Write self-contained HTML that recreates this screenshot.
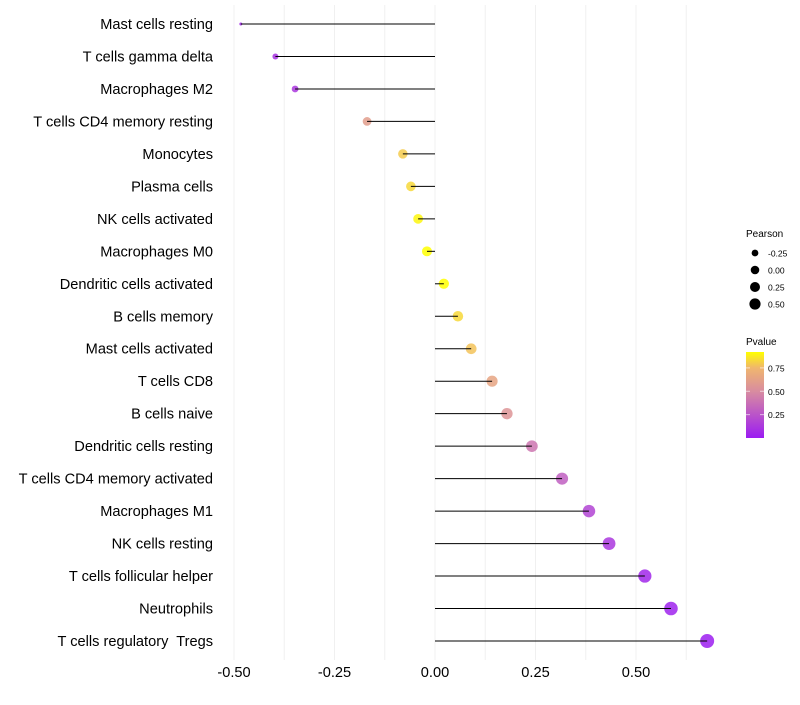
<!DOCTYPE html>
<html><head><meta charset="utf-8"><style>
body{margin:0;background:#fff;font-family:"Liberation Sans",sans-serif}
text{white-space:pre}
</style></head><body>
<svg id="chart" width="800" height="700" xmlns="http://www.w3.org/2000/svg" xml:space="preserve"></svg>
<script>
const categories=["Mast cells resting","T cells gamma delta","Macrophages M2","T cells CD4 memory resting","Monocytes","Plasma cells","NK cells activated","Macrophages M0","Dendritic cells activated","B cells memory","Mast cells activated","T cells CD8","B cells naive","Dendritic cells resting","T cells CD4 memory activated","Macrophages M1","NK cells resting","T cells follicular helper","Neutrophils","T cells regulatory  Tregs"];
const pearson=[-0.483,-0.397,-0.348,-0.169,-0.080,-0.060,-0.042,-0.020,0.022,0.057,0.090,0.142,0.179,0.241,0.316,0.383,0.433,0.522,0.587,0.677];
const pvalue=[0.05,0.1,0.12,0.6,0.8,0.83,0.9,0.92,0.92,0.83,0.78,0.65,0.55,0.4,0.3,0.18,0.12,0.05,0.03,0.01];
const xTicks=[-0.5,-0.25,0,0.25,0.5];
const xTickLabels=["-0.50","-0.25","0.00","0.25","0.50"];
const sizeLegend=[-0.25,0,0.25,0.5];
const pLegend=[0.25,0.5,0.75];

const NS="http://www.w3.org/2000/svg";
const svg=document.getElementById('chart');
function el(t,a,p){const e=document.createElementNS(NS,t);for(const k in a)e.setAttribute(k,a[k]);(p||svg).appendChild(e);return e;}
const xs=v=>435+v*402;
const ys=i=>24+i*(641-24)/19;
const rs=v=>1.5+5.5*Math.sqrt(Math.max(0,(v+0.483)/1.16));
function col(p){
  const stops=[[0,[155,28,242]],[0.5,[216,140,160]],[0.75,[240,182,110]],[0.92,[255,255,0]],[1,[255,255,0]]];
  for(let i=0;i<stops.length-1;i++){const[a,ca]=stops[i],[b,cb]=stops[i+1];
    if(p<=b){const t=(p-a)/(b-a);return 'rgb('+ca.map((c,j)=>Math.round(c+(cb[j]-c)*t)).join(',')+')';}}
  return 'rgb(255,255,0)';
}
for(let v=-0.5;v<=0.626;v+=0.125){
  const g=el('line',{x1:xs(v),x2:xs(v),y1:5,y2:660,stroke:'#f0f0f0','stroke-width':1});
  
  
}
xTicks.forEach((v,i)=>{
  const t=el('text',{x:xs(v),y:677,'text-anchor':'middle','font-size':14.6,fill:'#000'});
  t.textContent=xTickLabels[i];
  
  
});
categories.forEach((c,i)=>{
  const y=ys(i);
  const t=el('text',{x:213,y:y+5,'text-anchor':'end','font-size':14.6,fill:'#000'});
  t.textContent=c;
  
  
  const d=el('circle',{cx:xs(pearson[i]),cy:y,r:rs(pearson[i]),fill:col(pvalue[i]),'fill-opacity':0.85});
  
  
  const l=el('line',{x1:xs(0),x2:xs(pearson[i]),y1:y,y2:y,stroke:'#000','stroke-width':1});
  
  
});
const lt=el('text',{x:746,y:237,'font-size':10}); lt.textContent='Pearson';


sizeLegend.forEach((v,i)=>{
  const y=253+i*17;
  const c=el('circle',{cx:755,cy:y,r:rs(v)*0.85,fill:'#000'});
  
  
  const t=el('text',{x:768,y:y+3.5,'font-size':8.5}); t.textContent=v.toFixed(2);
  
  
});
const pt=el('text',{x:746,y:345,'font-size':10}); pt.textContent='Pvalue';


const defs=el('defs',{});
const lg=el('linearGradient',{id:'pg',x1:0,y1:1,x2:0,y2:0},defs);
[0,0.25,0.5,0.75,0.92].forEach(p=>el('stop',{offset:p/0.92,'stop-color':col(p)},lg));
const bar=el('rect',{x:746,y:352,width:18,height:86,fill:'url(#pg)'});


pLegend.forEach(v=>{
  const y=438-v/0.92*86;
  el('line',{x1:746,x2:750,y1:y,y2:y,stroke:'#fff','stroke-opacity':0.6});
  el('line',{x1:760,x2:764,y1:y,y2:y,stroke:'#fff','stroke-opacity':0.6});
  const t=el('text',{x:768,y:y+3.5,'font-size':8.5}); t.textContent=v.toFixed(2);
  
  
});
</script>
</body></html>
